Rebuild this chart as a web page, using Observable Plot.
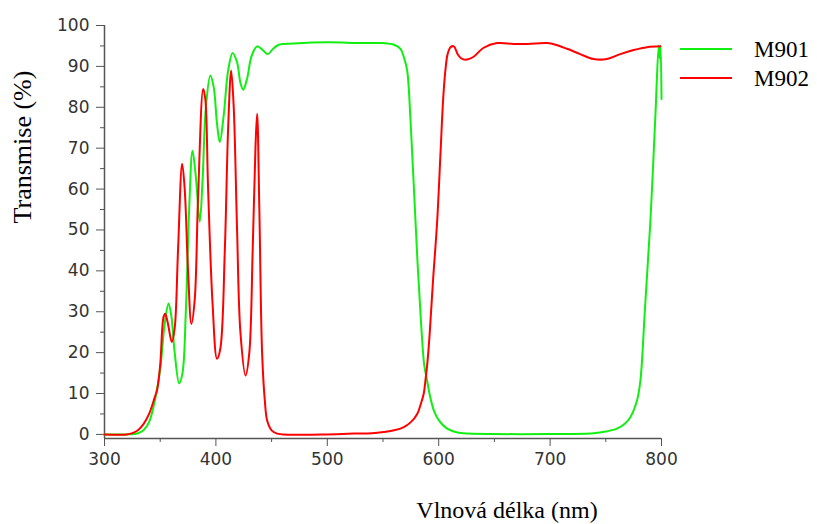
<!DOCTYPE html>
<html>
<head>
<meta charset="utf-8">
<script src="https://cdn.jsdelivr.net/npm/d3@7"></script>
<script src="https://cdn.jsdelivr.net/npm/@observablehq/plot@0.6"></script>
<style>
  html, body { margin: 0; padding: 0; background: #fff; }
  #chart { width: 817px; height: 524px; }
</style>
</head>
<body>
<div id="chart"></div>
<script>
// ---- data ----
const seriesNames = ["M901", "M902"];
const xTicks = [300, 400, 500, 600, 700, 800];
const yTicks = [0, 10, 20, 30, 40, 50, 60, 70, 80, 90, 100];
const xLabel = "Vlnová délka (nm)";
const yLabel = "Transmise (%)";

const m901Wavelength = [300, 320, 330, 335, 340, 345, 350, 354, 357.5, 360, 363, 367, 370, 373, 376, 379, 382, 385.5, 388, 391, 395, 398, 401, 403.5, 407, 411, 415, 419, 422, 424.5, 428, 432, 437, 442, 446.6, 451, 456.5, 470, 500, 530, 550, 560, 565.7, 569, 571.7, 574.7, 577.7, 581, 584, 587, 589.7, 592.5, 595.6, 600, 607.6, 615, 622, 650, 700, 739, 750, 760, 767, 772, 778, 781, 785, 790, 794.6, 797.5, 798.5, 799.2, 800];
const m901T = [0, 0, 0.3, 1, 3, 8, 16, 27, 32, 29, 20, 12.5, 15, 30, 55, 69.4, 63, 52, 62, 80, 87.8, 85, 76, 71.5, 78, 89, 93.3, 91, 86, 84.3, 87, 92.5, 94.9, 94, 93, 94.2, 95.3, 95.6, 95.9, 95.7, 95.7, 95.3, 94.3, 92, 89, 76.8, 60.5, 42, 28, 17, 13, 9, 5.9, 3.5, 1.4, 0.6, 0.3, 0.1, 0.1, 0.3, 0.7, 1.4, 2.6, 4.2, 8.3, 13, 30, 52, 78.5, 95, 92, 95, 82];

const m902Wavelength = [300, 320, 325, 330, 335, 340, 345, 347.3, 350, 353, 354.5, 357, 360.4, 363, 366, 369.7, 372, 375, 378, 381, 384, 388.6, 390.5, 393, 397, 401, 404, 408, 411, 413.7, 416, 419, 422, 426.6, 430, 433, 435.5, 437, 439, 441.5, 444, 446, 450, 455, 476, 500, 524, 540, 550.7, 560, 568.7, 575, 580.7, 584, 586.6, 588, 590, 592, 595, 598.6, 601.6, 604, 606, 608, 610.6, 613.6, 617, 620, 624, 631, 640, 652.5, 667.4, 680, 697.4, 705, 715.3, 727, 739, 751, 763, 775, 787, 799];
const m902T = [0, 0, 0.3, 1, 2.5, 5, 9, 11, 17, 28.7, 29.5, 27, 22.6, 26, 45, 66.2, 60, 40, 27, 33, 58, 84.5, 82, 60, 32, 18.5, 21, 45, 75, 89, 80, 50, 25, 14.4, 20, 45, 70, 78.4, 55, 19.7, 8, 3.4, 1, 0.2, -0.1, 0, 0.2, 0.3, 0.6, 1, 1.8, 3, 5, 7.5, 10, 13, 18, 25, 38, 52, 68.7, 82, 89, 93, 94.7, 94.9, 93, 92, 91.6, 92.3, 94.5, 95.7, 95.5, 95.5, 95.7, 95.3, 94.3, 93, 91.8, 91.8, 93, 94, 94.7, 94.9];

const colors = ["#11ee11", "#ff0000"];

const m901 = m901Wavelength.map((x, i) => ({x, y: m901T[i]}));
const m902 = m902Wavelength.map((x, i) => ({x, y: m902T[i]}));

const axisColor = "#555";
const minorX = d3.range(350, 800, 100);
const minorY = d3.range(5, 100, 10);

const plot = Plot.plot({
  width: 817,
  height: 524,
  marginLeft: 104,
  marginRight: 156,
  marginTop: 25,
  marginBottom: 86,
  style: {fontFamily: "DejaVu Sans", fontSize: "17px", color: "#333", background: "#fff"},
  x: {domain: [300, 800]},
  y: {domain: [-1, 100]},
  marks: [
    Plot.axisY({ticks: yTicks, tickSize: 8, tickPadding: 7, stroke: axisColor, label: null, fill: "#333"}),
    Plot.axisY({ticks: minorY, tickSize: 4, tickFormat: () => "", stroke: axisColor, label: null}),
    Plot.axisX({ticks: xTicks, tickSize: 8, tickPadding: 6, stroke: axisColor, label: null, fill: "#333"}),
    Plot.axisX({ticks: minorX, tickSize: 4, tickFormat: () => "", stroke: axisColor, label: null}),
    Plot.ruleX([300], {stroke: axisColor, strokeWidth: 1.5}),
    Plot.ruleY([-1], {stroke: axisColor, strokeWidth: 1.5}),
    Plot.line(m901, {x: "x", y: "y", stroke: colors[0], strokeWidth: 2, curve: "catmull-rom"}),
    Plot.line(m902, {x: "x", y: "y", stroke: colors[1], strokeWidth: 2, curve: "catmull-rom"}),
    Plot.text([xLabel], {text: d => d, frameAnchor: "bottom", dx: 124, dy: 79,
      fontFamily: "Liberation Serif", fontSize: 24, fill: "#000"})
  ]
});

const svg = d3.select(plot);

// y axis title
svg.append("text")
  .attr("transform", "translate(22,147) rotate(-90)")
  .attr("text-anchor", "middle")
  .attr("dy", "0.35em")
  .attr("font-family", "Liberation Serif")
  .attr("font-size", 26)
  .attr("fill", "#000")
  .text(yLabel);

// legend (top right, outside the frame)
const lg = svg.append("g").attr("font-family", "Liberation Serif").attr("font-size", 23)
  .attr("fill", "#000").attr("text-anchor", "start");
seriesNames.forEach((name, i) => {
  const y = 49 + i * 29;
  lg.append("line").attr("x1", 680).attr("x2", 732).attr("y1", y).attr("y2", y)
    .attr("stroke", colors[i]).attr("stroke-width", 2);
  lg.append("text").attr("x", 754).attr("y", y).attr("dy", "0.35em").text(name);
});

document.getElementById("chart").appendChild(plot);
</script>
</body>
</html>
